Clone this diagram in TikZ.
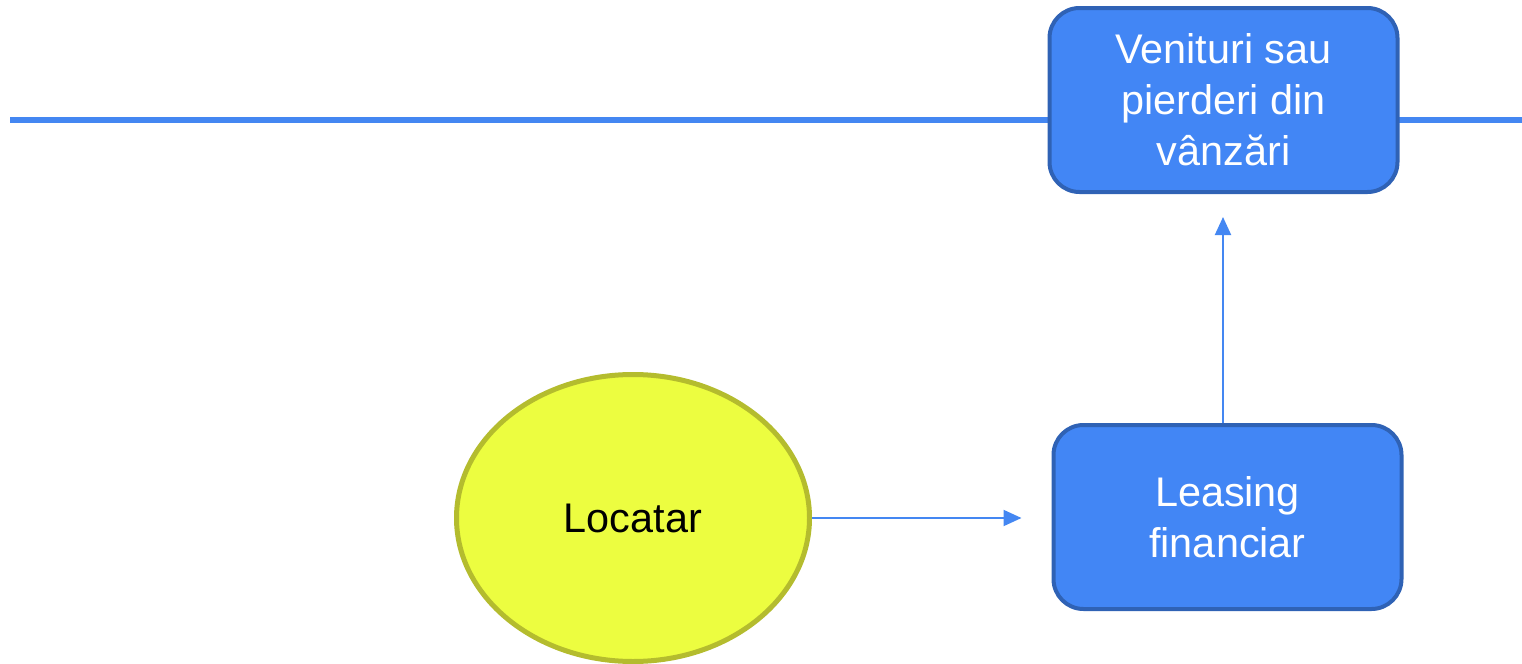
\documentclass[tikz,border=0pt]{standalone}
\usepackage{fontspec}
\setmainfont{Liberation Sans}
\usetikzlibrary{positioning,shapes.geometric,arrows.meta}
\definecolor{boxfill}{HTML}{4286F5}
\definecolor{boxline}{HTML}{2F62B5}
\definecolor{rulecol}{HTML}{4487F2}
\definecolor{ovalfill}{HTML}{ECFD40}
\definecolor{ovalline}{HTML}{B4BC2E}
\tikzset{
  box/.style   = {draw=boxline, fill=boxfill, line width=2pt, rounded corners=15pt,
                  align=center, text=white, font=\fontsize{20.7}{25.5}\selectfont,
                  minimum width=174pt, minimum height=92pt, inner sep=2pt},
  party/.style = {ellipse, draw=ovalline, fill=ovalfill, line width=2.5pt,
                  font=\fontsize{20.7}{25.5}\selectfont, minimum width=176.5pt,
                  minimum height=143.5pt, inner sep=0pt},
  flow/.style  = {-{Triangle[length=9pt,width=8pt]}, line width=1pt, draw=rulecol},
}
\begin{document}
\begin{tikzpicture}[x=0.5pt,y=-0.5pt]
    \useasboundingbox (0,0) rectangle (1522,664);
    % horizontal rule behind the top box
    \coordinate (ruleL) at (10,120);
    \coordinate (ruleR) at (1522,120);
    \draw[rulecol, line width=3.2pt] (ruleL) -- (ruleR);
    % nodes
    \node[box]   (result) at (1223.5,100) {Venituri sau\\pierderi din\\vânzări};
    \node[box]   (lease)  at (1227.5,517) {Leasing\\financiar};
    \node[party] (tenant) at (633,518)    {Locatar};

    \draw[flow, shorten >=15pt] (tenant.east) -- (tenant.east -| lease.west);
    \draw[flow, shorten >=11.5pt] (lease.north -| 1223,0) -- (result.south -| 1223,0);
\end{tikzpicture}
\end{document}
